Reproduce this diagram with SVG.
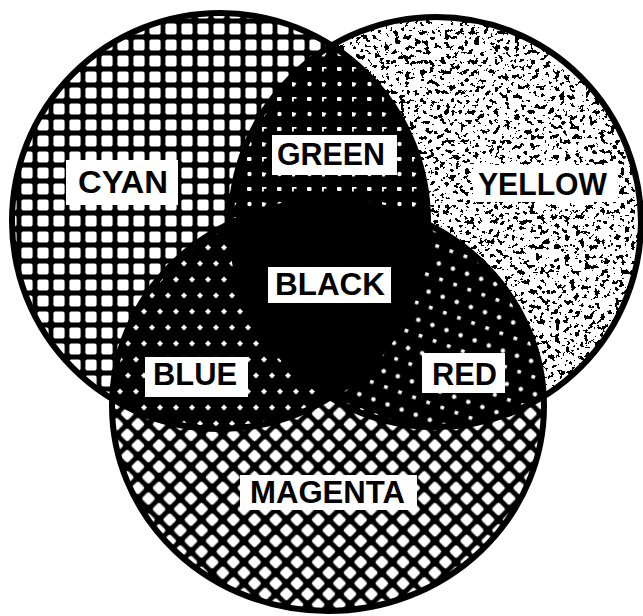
<svg xmlns="http://www.w3.org/2000/svg" width="643" height="616" viewBox="0 0 643 616">
<defs>
<style>
.lbl{font-family:"Liberation Sans",Arial,sans-serif;font-weight:bold;font-size:31px;fill:#000}
.box{fill:#fff}
.outline{fill:none;stroke:#000;stroke-width:6}
</style>
<circle id="cC" cx="220" cy="221" r="208"/>
<circle id="cY" cx="436" cy="222" r="205"/>
<ellipse id="cM" cx="328" cy="406" rx="216" ry="205"/>
<clipPath id="clipC"><circle cx="220" cy="221" r="208"/></clipPath>
<clipPath id="clipY"><circle cx="436" cy="222" r="205"/></clipPath>
<pattern id="pCyan" width="16" height="16" patternUnits="userSpaceOnUse" x="3" y="5">
<rect width="16" height="16" fill="#000"/>
<rect x="2.4" y="2.4" width="11.2" height="11.2" rx="2" fill="#fff"/>
</pattern>
<pattern id="pMag" width="15" height="15" patternUnits="userSpaceOnUse" patternTransform="rotate(45)">
<rect width="15" height="15" fill="#000"/>
<rect x="2.5" y="2.5" width="10" height="10" rx="2" fill="#fff"/>
</pattern>
<pattern id="pGreen" width="30" height="30" patternUnits="userSpaceOnUse" x="2" y="2">
<rect width="30" height="30" fill="#000"/>
<rect x="5" y="5" width="4.5" height="4" rx="1" fill="#fff"/>
<path d="M20 5h4.5v1.8h-2.7v2.7h-1.8z" fill="#fff"/>
<circle cx="7.5" cy="22" r="2.2" fill="#fff"/>
<path d="M20 20l4.5 1-2 3.5h-2.5z" fill="#fff"/>
</pattern>
<pattern id="pBlue" width="16" height="32" patternUnits="userSpaceOnUse">
<rect width="16" height="32" fill="#000"/>
<path d="M8 4.5l3 3-3 3-3-3z" fill="#fff"/>
<path d="M0 20.5l3 3-3 3-3-3z M16 20.5l3 3-3 3-3-3z" fill="#fff"/>
</pattern>
<pattern id="pRed" width="15" height="30" patternUnits="userSpaceOnUse" patternTransform="rotate(20)">
<rect width="15" height="30" fill="#000"/>
<circle cx="7.5" cy="7.5" r="2.2" fill="#fff"/>
<path d="M-1.8 20h3.6v3.6h-3.6z M13.2 20h3.6v3.6h-3.6z" fill="#fff"/>
</pattern>
<filter id="speck" x="0" y="0" width="643" height="616" filterUnits="userSpaceOnUse" color-interpolation-filters="sRGB">
<feTurbulence type="fractalNoise" baseFrequency="0.2" numOctaves="3" seed="11" result="n"/>
<feColorMatrix in="n" type="matrix" values="0 0 0 0 0  0 0 0 0 0  0 0 0 0 0  1 0 0 0 0" result="a"/>
<feComponentTransfer in="a" result="t"><feFuncA type="discrete" tableValues="0 0 0 0 0 0 0 0 0 0 0 0 1 1 1 1 1 1 1 1"/></feComponentTransfer>
<feComposite in="t" in2="SourceAlpha" operator="in"/>
</filter>
</defs>
<rect width="643" height="616" fill="#fff"/>
<g id="cyan"><use href="#cC" fill="url(#pCyan)"/></g>
<g id="yellow"><use href="#cY" fill="#fff"/><use href="#cY" fill="#000" filter="url(#speck)"/></g>
<g id="magenta"><use href="#cM" fill="url(#pMag)"/></g>
<g id="green"><use href="#cY" clip-path="url(#clipC)" fill="url(#pGreen)"/></g>
<g id="blue"><use href="#cM" clip-path="url(#clipC)" fill="url(#pBlue)"/></g>
<g id="red"><use href="#cM" clip-path="url(#clipY)" fill="url(#pRed)"/></g>
<g id="black"><g clip-path="url(#clipC)"><use href="#cM" clip-path="url(#clipY)" fill="#000"/></g></g>
<g id="outlines">
<use href="#cC" class="outline"/>
<use href="#cY" class="outline"/>
<use href="#cM" class="outline"/>
</g>
<g id="label-cyan"><rect class="box" x="66" y="160" width="112" height="45"/><text class="lbl" x="78" y="193" textLength="90" lengthAdjust="spacingAndGlyphs">CYAN</text></g>
<g id="label-green"><rect class="box" x="272" y="135" width="125" height="40"/><text class="lbl" x="277" y="165" textLength="108" lengthAdjust="spacingAndGlyphs">GREEN</text></g>
<g id="label-yellow"><rect class="box" x="473" y="165" width="144" height="37"/><text class="lbl" x="478" y="195" textLength="129" lengthAdjust="spacingAndGlyphs">YELLOW</text></g>
<g id="label-black"><rect class="box" x="268" y="267" width="123" height="36"/><text class="lbl" x="275" y="295" textLength="110" lengthAdjust="spacingAndGlyphs">BLACK</text></g>
<g id="label-blue"><rect class="box" x="145" y="357" width="103" height="40"/><text class="lbl" x="153" y="385" textLength="84" lengthAdjust="spacingAndGlyphs">BLUE</text></g>
<g id="label-red"><rect class="box" x="422" y="353" width="83" height="40"/><text class="lbl" x="432" y="385" textLength="65" lengthAdjust="spacingAndGlyphs">RED</text></g>
<g id="label-magenta"><rect class="box" x="240" y="475" width="177" height="35"/><text class="lbl" x="250" y="503" textLength="155" lengthAdjust="spacingAndGlyphs">MAGENTA</text></g>
</svg>
